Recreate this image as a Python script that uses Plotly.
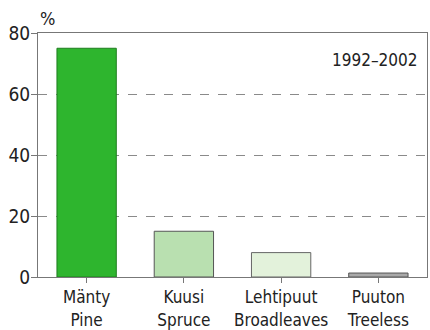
import plotly.graph_objects as go

# Tree species share of plots, 1992–2002
categories = ["Mänty<br>Pine", "Kuusi<br>Spruce", "Lehtipuut<br>Broadleaves", "Puuton<br>Treeless"]
shares = [75, 15, 8, 1.3]
fill_colors = ["#2eb52e", "#b9e0b0", "#e3f2db", "#a9a9a9"]
edge_colors = ["#1f7d1f", "#555555", "#666666", "#555555"]
y_ticks = [0, 20, 40, 60, 80]

FONT = "DejaVu Sans Condensed, Roboto, Arial"
TXT = "#222222"

fig = go.Figure(
    go.Bar(
        x=categories,
        y=shares,
        marker=dict(color=fill_colors, line=dict(color=edge_colors, width=1)),
        width=0.61,
    )
)

fig.update_layout(
    width=430,
    height=330,
    margin=dict(l=38, r=3, t=33, b=53),
    paper_bgcolor="white",
    plot_bgcolor="white",
    showlegend=False,
    bargap=0.39,
    font=dict(family=FONT, size=17, color=TXT),
    annotations=[
        dict(text="%", xref="paper", yref="paper", x=0.0, y=1.0,
             xanchor="left", yanchor="bottom", showarrow=False, yshift=2,
             font=dict(family=FONT, size=18, color=TXT)),
        dict(text="1992–2002", xref="paper", yref="paper", x=0.98, y=0.89,
             xanchor="right", yanchor="middle", showarrow=False,
             font=dict(family=FONT, size=17, color=TXT)),
    ],
)

fig.update_xaxes(
    showline=True, linecolor="#777777", linewidth=1, mirror=True,
    ticks="outside", ticklen=5, tickcolor="#777777",
    showgrid=False, tickfont=dict(size=17), automargin=False,
)

fig.update_yaxes(
    range=[0, 80], tickvals=y_ticks,
    showline=True, linecolor="#777777", linewidth=1, mirror=True,
    ticks="outside", ticklen=6, tickcolor="#777777",
    showgrid=True, gridcolor="#8a8a8a", griddash="dash", gridwidth=1,
    zeroline=False, tickfont=dict(size=19), ticklabelstandoff=-3,
    automargin=False,
)

fig.write_html("out.html")
